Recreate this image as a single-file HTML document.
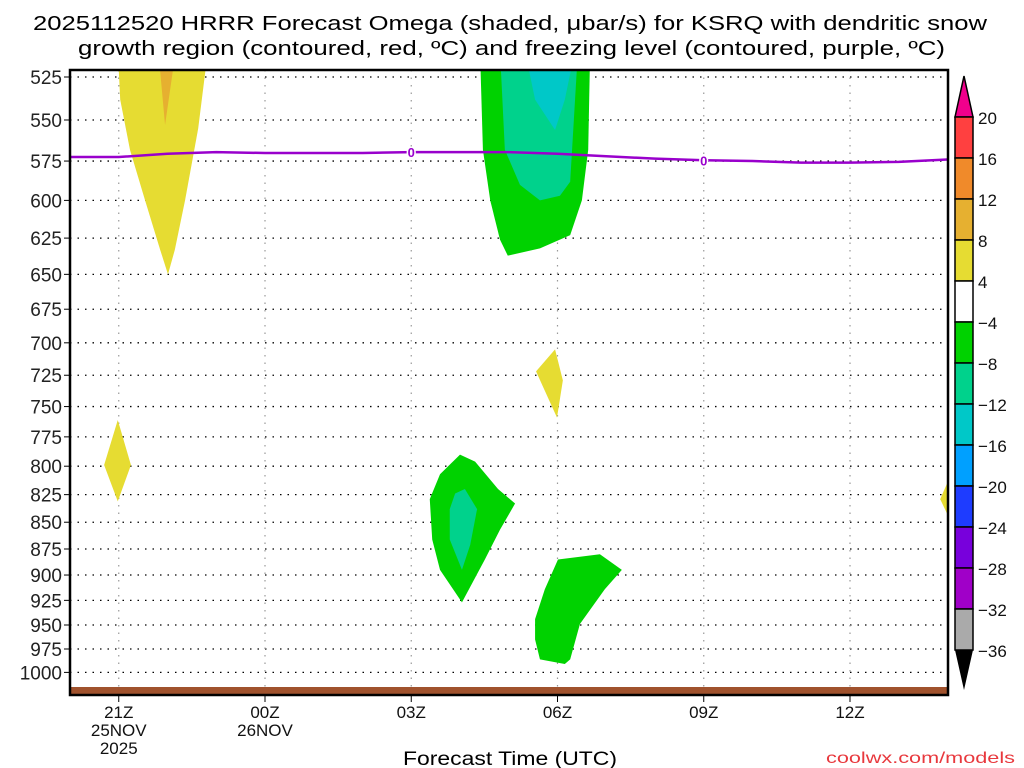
<!DOCTYPE html>
<html><head><meta charset="utf-8"><style>
body{margin:0;background:#fff;}
svg{display:block;font-family:"Liberation Sans",sans-serif;}
</style></head><body>
<svg id="chart" width="1024" height="768" xmlns="http://www.w3.org/2000/svg">
<defs><clipPath id="plotclip"><rect x="70" y="70" width="878" height="625"/></clipPath></defs>
<text x="33" y="30" font-size="20" textLength="954" lengthAdjust="spacingAndGlyphs" fill="#000">2025112520 HRRR Forecast Omega (shaded, μbar/s) for KSRQ with dendritic snow</text>
<text x="78" y="55" font-size="20" textLength="867" lengthAdjust="spacingAndGlyphs" fill="#000">growth region (contoured, red, ºC) and freezing level (contoured, purple, ºC)</text>
<g id="grid"></g>
<g id="shades" clip-path="url(#plotclip)"></g>
<g id="frz" clip-path="url(#plotclip)"></g>
<rect x="70" y="687" width="878" height="8" fill="#a0522d"/>
<rect x="70" y="70" width="878" height="625" fill="none" stroke="#000" stroke-width="2.5"/>
<g id="yaxis"></g>
<g id="xaxis"></g>
<g id="cbar"></g>
<text x="403" y="765" font-size="19" textLength="214" lengthAdjust="spacingAndGlyphs">Forecast Time (UTC)</text>
<text x="826" y="763" font-size="16" textLength="189" lengthAdjust="spacingAndGlyphs" fill="#e8383d">coolwx.com/models</text>
</svg>
<script>
// hours since 20Z 25NOV
const pressureTicks=[525,550,575,600,625,650,675,700,725,750,775,800,825,850,875,900,925,950,975,1000];
const timeTickHours=[1,4,7,10,13,16];
const timeTickLabels=[["21Z","25NOV","2025"],["00Z","26NOV"],["03Z"],["06Z"],["09Z"],["12Z"]];
const freezeHours=[0,1,2,3,4,5,6,7,8,9,10,11,12,13,14,15,16,17,18];
const freezeP=[572.5,572.5,570.5,569.5,570,570,570,569.5,569.5,569.5,570.5,572,573.5,574.5,575,576,576,575.5,574];
const freezeLabelHours=[7,13];
const cbarLevels=[20,16,12,8,4,-4,-8,-12,-16,-20,-24,-28,-32,-36];
const cbarColors=["#ff4040","#f08a2a","#e6b030","#e6dc32","#ffffff","#00d200","#00d28c","#00c8c8","#00a0ff","#1e3cff","#7800dc","#a000c8","#aaaaaa"];
const shadePolys=[
 {c:"#e6dc32",pts:[[0.98,510],[1.03,538],[1.23,568],[1.54,600],[1.85,633],[2.01,650],[2.15,633],[2.36,600],[2.63,555],[2.83,510]]},
 {c:"#e6b030",pts:[[1.81,510],[1.95,553],[2.17,510]]},
 {c:"#00d200",pts:[[8.41,510],[8.47,568],[8.62,600],[8.82,626],[8.98,637],[9.64,632],[10.26,623],[10.5,600],[10.63,568],[10.67,510]]},
 {c:"#00d28c",pts:[[8.82,510],[8.92,568],[9.23,590],[9.64,600],[10.05,597],[10.26,588],[10.42,510]]},
 {c:"#00c8c8",pts:[[9.33,510],[9.54,538],[9.95,556],[10.15,538],[10.36,510]]},
 {c:"#e6dc32",pts:[[9.56,722],[9.95,705],[10.11,729],[9.99,759]]},
 {c:"#e6dc32",pts:[[0.70,799],[0.98,761],[1.25,799],[0.98,831]]},
 {c:"#e6dc32",pts:[[18.2,795],[17.85,829],[18.2,862]]},
 {c:"#00d200",pts:[[7.38,829],[7.59,807],[8.0,790],[8.31,796],[8.78,820],[9.13,833],[8.82,857],[8.51,885],[8.04,927],[7.59,895],[7.43,866]]},
 {c:"#00d28c",pts:[[7.9,824],[8.1,820],[8.35,838],[8.21,871],[8.04,895],[7.79,866],[7.79,838]]},
 {c:"#00d200",pts:[[9.54,944],[9.74,914],[10.01,885],[10.87,880],[11.32,895],[10.97,914],[10.46,949],[10.26,986],[10.15,991],[9.64,986],[9.54,965]]}
];
const X0=70,PXH=48.75,Y525=77,PXLN=924;
function xs(h){return X0+PXH*h;}
function ys(p){return Y525+PXLN*Math.log(p/525);}
const NS="http://www.w3.org/2000/svg";
function mk(tag,parent,attrs){const e=document.createElementNS(NS,tag);for(const k in attrs)e.setAttribute(k,attrs[k]);parent.appendChild(e);return e;}
const grid=document.getElementById('grid'),ya=document.getElementById('yaxis'),xa=document.getElementById('xaxis');
pressureTicks.forEach(p=>{
 const l=mk('line',grid,{x1:70,x2:948,y1:ys(p),y2:ys(p),stroke:'#000','stroke-width':1.3,'stroke-dasharray':'1.5 6'});
 
 
 const t=mk('line',ya,{x1:64,x2:70,y1:ys(p),y2:ys(p),stroke:'#000'});
 
 
 const tx=mk('text',ya,{x:62,y:ys(p)+7,'font-size':19,'text-anchor':'end',fill:'#222'});
 tx.textContent=p;
 
 
});
timeTickHours.forEach((h,i)=>{
 const l=mk('line',grid,{x1:xs(h),x2:xs(h),y1:70,y2:695,stroke:'#999','stroke-width':1.2,'stroke-dasharray':'1.5 6'});
 
 
 const t=mk('line',xa,{x1:xs(h),x2:xs(h),y1:695,y2:702,stroke:'#000'});
 
 
 timeTickLabels[i].forEach((s,j)=>{
  const tx=mk('text',xa,{x:xs(h),y:718+j*18,'font-size':17,'text-anchor':'middle',fill:'#111'});
  tx.textContent=s;
  
  
 });
});
const sh=document.getElementById('shades');
shadePolys.forEach(s=>{
 const pg=mk('polygon',sh,{points:s.pts.map(q=>xs(q[0])+','+ys(q[1])).join(' '),fill:s.c});
 
 
});
const fz=document.getElementById('frz');
const fl=mk('polyline',fz,{points:freezeHours.map((h,i)=>xs(h)+','+ys(freezeP[i])).join(' '),fill:'none',stroke:'#9900cc','stroke-width':2.5});


freezeLabelHours.forEach(h=>{
 const i=freezeHours.indexOf(h);
 const t=mk('text',fz,{x:xs(h),y:ys(freezeP[i])+5,'font-size':13,'font-weight':'bold','text-anchor':'middle',fill:'#9900cc',stroke:'#fff','stroke-width':3,'paint-order':'stroke'});
 t.textContent='0';
 
 
});
const cb=document.getElementById('cbar');
const CB0=117,CBH=41,CX=955,CW=18;
const tri=mk('polygon',cb,{points:`${CX},${CB0} ${CX+CW/2},76 ${CX+CW},${CB0}`,fill:'#f0008c',stroke:'#000','stroke-width':1.5});


cbarColors.forEach((c,i)=>{
 const r=mk('rect',cb,{x:CX,y:CB0+i*CBH,width:CW,height:CBH,fill:c,stroke:'#000','stroke-width':1.5});
 
 
});
const yb=CB0+cbarColors.length*CBH;
const tri2=mk('polygon',cb,{points:`${CX},${yb} ${CX+CW/2},690 ${CX+CW},${yb}`,fill:'#000'});


cbarLevels.forEach((v,i)=>{
 const t=mk('text',cb,{x:978,y:CB0+i*CBH+7,'font-size':17,fill:'#111'});
 t.textContent=v<0?'\u2212'+(-v):String(v);
 
 
});
</script>
</body></html>
